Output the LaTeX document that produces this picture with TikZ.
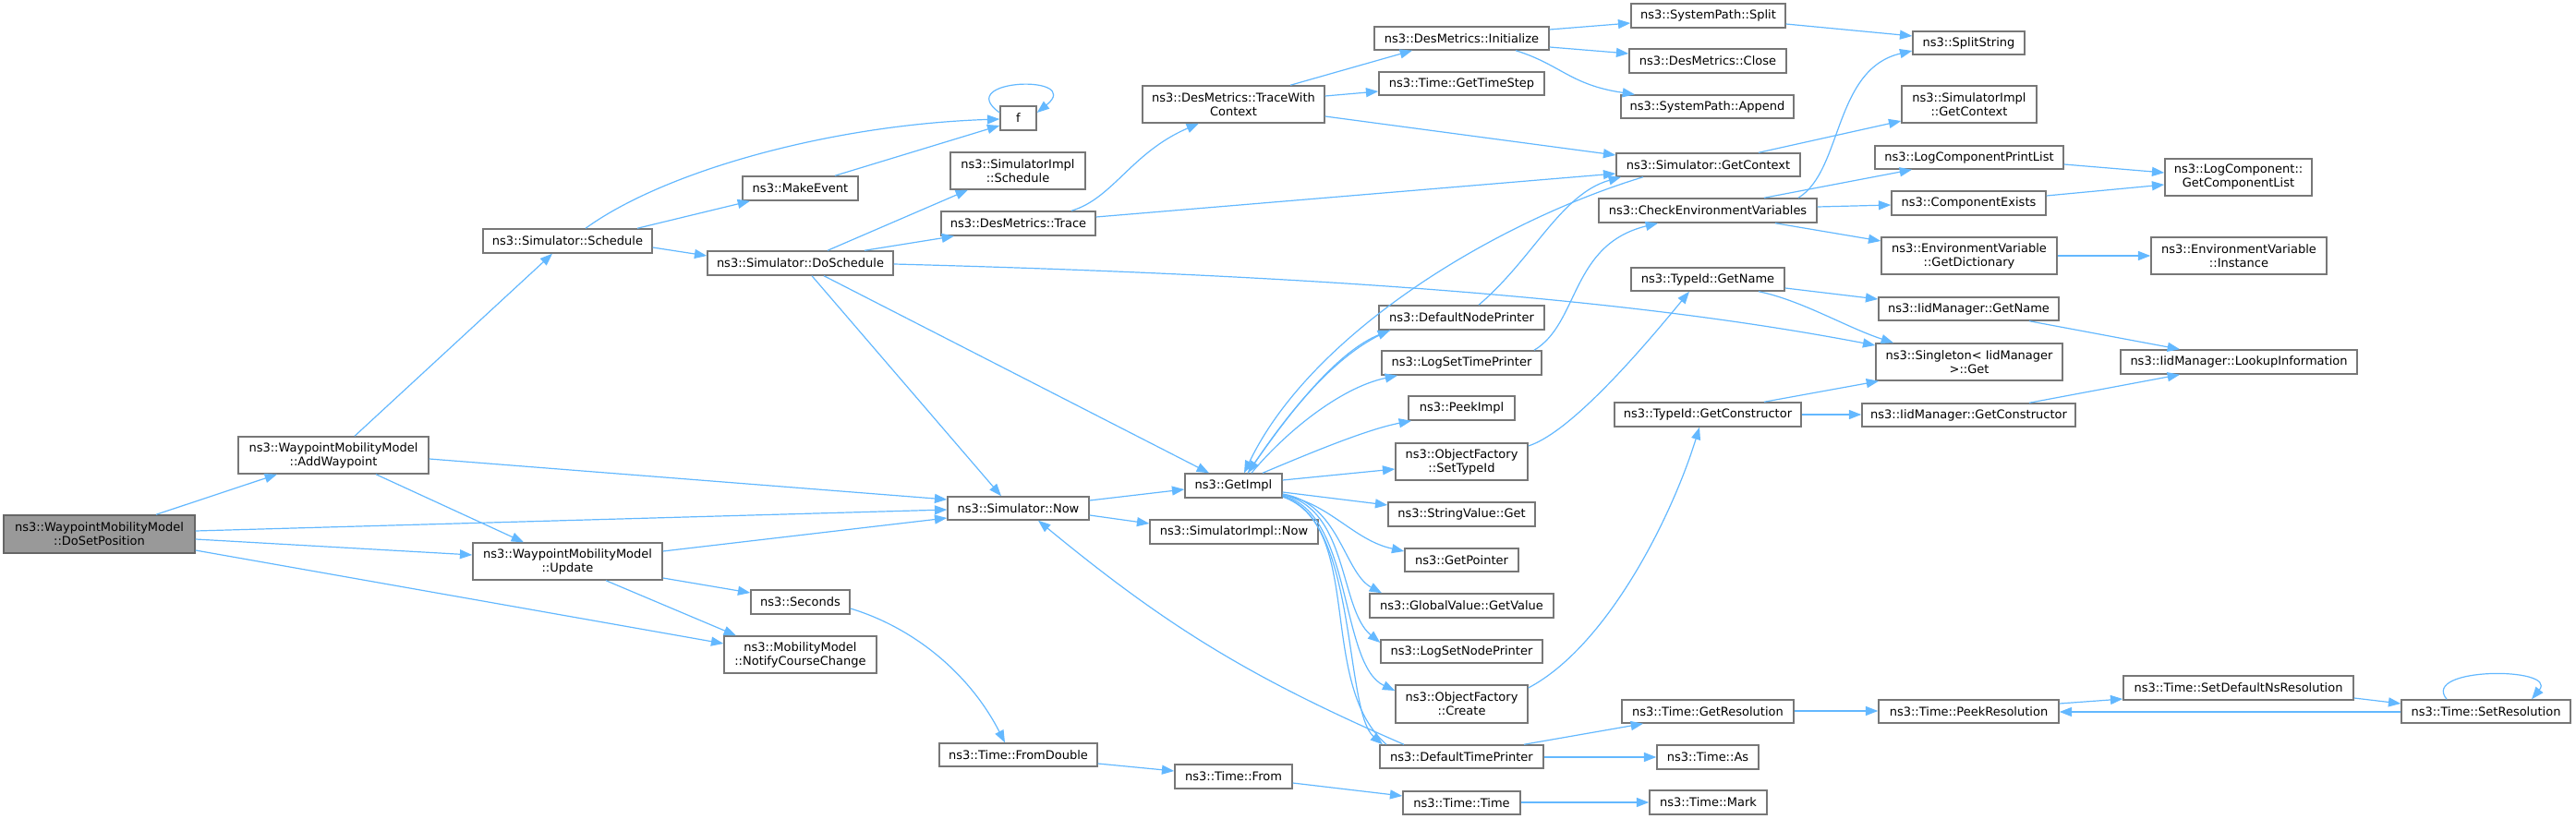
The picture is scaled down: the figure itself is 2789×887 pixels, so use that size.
\documentclass[tikz,border=0pt]{standalone}
\usepackage{fontspec}
\setmainfont{DejaVu Sans}
\usetikzlibrary{arrows.meta}
\definecolor{edgecol}{HTML}{63B8FF}
\definecolor{bordercol}{HTML}{777777}
\definecolor{rootfill}{HTML}{999999}
\tikzset{
  box/.style={draw=bordercol, line width=1.1pt, fill=white, inner sep=0pt, align=center,
    font=\fontsize{9.75}{11.25}\selectfont},
  rootbox/.style={fill=rootfill, draw={rgb,255:red,102;green,102;blue,102}},
  e/.style={draw=edgecol, line width=0.9pt, -{Triangle[length=10pt,width=7.5pt]}},
  ln/.style={draw=edgecol, line width=0.9pt},
}
\newcommand\bx[7][]{%
  \pgfmathsetmacro\bxw{(#5-#3)*0.75}%
  \pgfmathsetmacro\bxh{(#6-#4)*0.75}%
  \node[box,#1,minimum width=\bxw pt,minimum height=\bxh pt] (#2) at ({(#3+#5)/2},{(#4+#6)/2}) {#7};}
\begin{document}
\begin{tikzpicture}[x=0.75pt,y=-0.75pt]
\useasboundingbox (0,0) rectangle (2789,887);
% nodes
\bx[rootbox]{dsp}{4}{558}{211}{599}{ns3::WaypointMobilityModel\\::DoSetPosition}
\bx{addw}{258}{473}{464}{513}{ns3::WaypointMobilityModel\\::AddWaypoint}
\bx{sched}{523}{248}{706}{274}{ns3::Simulator::Schedule}
\bx{upd}{512}{588}{717}{628}{ns3::WaypointMobilityModel\\::Update}
\bx{now}{1026}{538}{1179}{563}{ns3::Simulator::Now}
\bx{secs}{813}{639}{920}{665}{ns3::Seconds}
\bx{ncc}{784}{689}{949}{729}{ns3::MobilityModel\\::NotifyCourseChange}
\bx{f}{1083}{115}{1122}{141}{f}
\bx{mkev}{804}{191}{929}{217}{ns3::MakeEvent}
\bx{dosch}{766}{272}{967}{298}{ns3::Simulator::DoSchedule}
\bx{siSched}{1029}{165}{1175}{205}{ns3::SimulatorImpl\\::Schedule}
\bx{trace}{1019}{229}{1186}{255}{ns3::DesMetrics::Trace}
\bx{twc}{1237}{93}{1434}{133}{ns3::DesMetrics::TraceWith\\Context}
\bx{getimpl}{1283}{513}{1388}{539}{ns3::GetImpl}
\bx{siNow}{1245}{563}{1427}{589}{ns3::SimulatorImpl::Now}
\bx{fromd}{1017}{805}{1188}{830}{ns3::Time::FromDouble}
\bx{tfrom}{1272}{828}{1399}{854}{ns3::Time::From}
\bx{init}{1488}{29}{1677}{54}{ns3::DesMetrics::Initialize}
\bx{gts}{1493}{78}{1672}{103}{ns3::Time::GetTimeStep}
\bx{split}{1766}{4}{1933}{30}{ns3::SystemPath::Split}
\bx{close}{1764}{53}{1934}{79}{ns3::DesMetrics::Close}
\bx{append}{1755}{103}{1942}{128}{ns3::SystemPath::Append}
\bx{getctx}{1750}{166}{1949}{191}{ns3::Simulator::GetContext}
\bx{chkenv}{1731}{215}{1967}{241}{ns3::CheckEnvironmentVariables}
\bx{dnp}{1493}{331}{1672}{357}{ns3::DefaultNodePrinter}
\bx{lstp}{1496}{380}{1669}{406}{ns3::LogSetTimePrinter}
\bx{peek}{1525}{429}{1640}{455}{ns3::PeekImpl}
\bx{settid}{1511}{480}{1654}{520}{ns3::ObjectFactory\\::SetTypeId}
\bx{strget}{1503}{544}{1662}{570}{ns3::StringValue::Get}
\bx{getptr}{1521}{594}{1644}{619}{ns3::GetPointer}
\bx{gvget}{1483}{643}{1682}{669}{ns3::GlobalValue::GetValue}
\bx{lsnp}{1495}{693}{1670}{718}{ns3::LogSetNodePrinter}
\bx{ofcreate}{1511}{742}{1654}{783}{ns3::ObjectFactory\\::Create}
\bx{dtp}{1494}{807}{1671}{832}{ns3::DefaultTimePrinter}
\bx{ttime}{1519}{857}{1646}{882}{ns3::Time::Time}
\bx{tidname}{1766}{290}{1932}{315}{ns3::TypeId::GetName}
\bx{tidctor}{1748}{436}{1950}{462}{ns3::TypeId::GetConstructor}
\bx{getres}{1756}{758}{1942}{783}{ns3::Time::GetResolution}
\bx{tas}{1794}{807}{1904}{833}{ns3::Time::As}
\bx{tmark}{1786}{856}{1913}{882}{ns3::Time::Mark}
\bx{splitstr}{2071}{34}{2192}{59}{ns3::SplitString}
\bx{siGetCtx}{2059}{93}{2205}{133}{ns3::SimulatorImpl\\::GetContext}
\bx{lcpl}{2030}{158}{2234}{183}{ns3::LogComponentPrintList}
\bx{compex}{2048}{207}{2215}{233}{ns3::ComponentExists}
\bx{getdict}{2037}{257}{2227}{297}{ns3::EnvironmentVariable\\::GetDictionary}
\bx{iidname}{2034}{322}{2229}{347}{ns3::IidManager::GetName}
\bx{singleton}{2031}{372}{2233}{412}{ns3::Singleton< IidManager\\>::Get}
\bx{iidctor}{2016}{437}{2247}{462}{ns3::IidManager::GetConstructor}
\bx{peekres}{2034}{758}{2229}{783}{ns3::Time::PeekResolution}
\bx{gcl}{2344}{172}{2503}{212}{ns3::LogComponent::\\GetComponentList}
\bx{instance}{2329}{257}{2519}{297}{ns3::EnvironmentVariable\\::Instance}
\bx{lookup}{2296}{379}{2552}{405}{ns3::IidManager::LookupInformation}
\bx{setdef}{2299}{732}{2548}{758}{ns3::Time::SetDefaultNsResolution}
\bx{setres}{2600}{758}{2783}{783}{ns3::Time::SetResolution}
% edges
\draw[e] (dsp.north -| 169,0) -- (addw.south -| 300,0);
\draw[e] (dsp.east |- 0,575) -- (now.west |- 0,552);
\draw[e] (dsp.east |- 0,584) -- (upd.west |- 0,601);
\draw[e] (dsp.east |- 0,596) -- (ncc.west |- 0,697);
\draw[e] (addw.north -| 384,0) -- (sched.south -| 598,0);
\draw[e] (addw.east |- 0,497) -- (now.west |- 0,541);
\draw[e] (addw.south -| 407,0) -- (upd.north -| 567,0);
\draw[e] (sched.north -| 634,0) .. controls (720,185) and (900,135) .. (f.west |- 0,129);
\draw[e] (sched.north -| 690,0) -- (mkev.south -| 812,0);
\draw[e] (sched.east |- 0,268) -- (dosch.west |- 0,277);
\draw[e] (mkev.north -| 904,0) -- (f.west |- 0,136);
\draw[e] (f.west |- 0,122) .. controls (1030,85) and (1175,80) .. (f.east |- 0,122);
\draw[e] (dosch.north -| 896,0) -- (siSched.south -| 1048,0);
\draw[e] (dosch.north -| 936,0) -- (trace.south -| 1033,0);
\draw[e] (dosch.east |- 0,286) .. controls (1500,300) and (1800,330) .. (singleton.west |- 0,374);
\draw[e] (dosch.south -| 879,0) -- (now.north -| 1084,0);
\draw[e] (dosch.south -| 892,0) -- (getimpl.north -| 1309,0);
\draw[e] (trace.north -| 1160,0) .. controls (1205,215) and (1225,165) .. (twc.south -| 1298,0);
\draw[e] (trace.east |- 0,235) -- (getctx.west |- 0,188);
\draw[e] (twc.north -| 1397,0) -- (init.south -| 1529,0);
\draw[e] (twc.east |- 0,104) -- (gts.west |- 0,99);
\draw[e] (twc.east |- 0,126) -- (getctx.west |- 0,168);
\draw[e] (init.east |- 0,32) -- (split.west |- 0,25);
\draw[e] (init.east |- 0,51) -- (close.west |- 0,58);
\draw[e] (init.south -| 1641,0) .. controls (1690,70) and (1700,92) .. (append.north -| 1770,0);
\draw[e] (split.east |- 0,26) -- (splitstr.west |- 0,39);
\draw[e] (getctx.north -| 1904,0) -- (siGetCtx.west |- 0,131);
\draw[e] (chkenv.north -| 1947,0) .. controls (1995,185) and (1985,75) .. (splitstr.west |- 0,55);
\draw[e] (chkenv.north -| 1910,0) -- (lcpl.south -| 2070,0);
\draw[e] (chkenv.east |- 0,224) -- (compex.west |- 0,222);
\draw[e] (chkenv.south -| 1922,0) -- (getdict.west |- 0,261);
\draw[e] (lcpl.east |- 0,178) -- (gcl.west |- 0,187);
\draw[e] (compex.east |- 0,212) -- (gcl.west |- 0,200);
\draw[e] (getdict.east |- 0,277) -- (instance.west |- 0,277);
\draw[e] (upd.east |- 0,597) -- (now.west |- 0,561);
\draw[e] (upd.east |- 0,626) -- (secs.west |- 0,642);
\draw[e] (upd.south -| 656,0) -- (ncc.north -| 797,0);
\draw[e] (secs.east |- 0,659) .. controls (990,680) and (1050,730) .. (fromd.north -| 1088,0);
\draw[e] (fromd.east |- 0,827) -- (tfrom.west |- 0,835);
\draw[e] (tfrom.east |- 0,848) -- (ttime.west |- 0,862);
\draw[e] (ttime.east |- 0,869) -- (tmark.west |- 0,869);
\draw[e] (now.east |- 0,542) -- (getimpl.west |- 0,530);
\draw[e] (now.east |- 0,558) -- (siNow.west |- 0,567);
\draw[e] (getctx.south -| 1779,0) .. controls (1620,240) and (1420,360) .. (getimpl.north -| 1347,0);
\draw[e] (getimpl.north -| 1351,0) .. controls (1400,440) and (1450,380) .. (dnp.south -| 1505,0);
\draw[e] (dnp.south -| 1505,0) .. controls (1450,380) and (1400,440) .. (getimpl.north -| 1351,0);
\draw[e] (dnp.north -| 1601,0) .. controls (1660,280) and (1690,210) .. (getctx.south -| 1755,0);
\draw[e] (getimpl.north -| 1355,0) .. controls (1390,470) and (1450,420) .. (lstp.south -| 1513,0);
\draw[e] (getimpl.north -| 1367,0) .. controls (1420,490) and (1480,465) .. (peek.south -| 1528,0);
\draw[e] (getimpl.east |- 0,520) -- (settid.west |- 0,508);
\draw[e] (getimpl.east |- 0,533) -- (strget.west |- 0,547);
\draw[e] (getimpl.east |- 0,536) .. controls (1440,545) and (1465,585) .. (getptr.west |- 0,597);
\draw[e] (getimpl.east |- 0,535) .. controls (1450,545) and (1455,620) .. (gvget.north -| 1496,0);
\draw[e] (getimpl.east |- 0,536) .. controls (1460,550) and (1450,660) .. (lsnp.west |- 0,696);
\draw[e] (getimpl.east |- 0,537) .. controls (1465,555) and (1450,720) .. (ofcreate.west |- 0,748);
\draw[e] (getimpl.east |- 0,538) .. controls (1470,560) and (1455,770) .. (dtp.north -| 1497,0);
\draw[ln] (getimpl.east |- 0,538) .. controls (1478,570) and (1425,740) .. (dtp.north -| 1501,0);
\draw[e] (dtp.north -| 1520,0) to[bend left=8] (now.south -| 1124,0);
\draw[e] (settid.east |- 0,483) .. controls (1695,470) and (1760,400) .. (tidname.south -| 1829,0);
\draw[e] (lstp.north -| 1661,0) .. controls (1710,350) and (1700,265) .. (chkenv.south -| 1795,0);
\draw[e] (ofcreate.east |- 0,745) .. controls (1740,700) and (1810,560) .. (tidctor.south -| 1840,0);
\draw[e] (tidname.east |- 0,312) -- (iidname.west |- 0,324);
\draw[e] (tidname.south -| 1904,0) .. controls (1950,325) and (2000,355) .. (singleton.north -| 2050,0);
\draw[e] (tidctor.north -| 1910,0) -- (singleton.south -| 2034,0);
\draw[e] (tidctor.east |- 0,449) -- (iidctor.west |- 0,449);
\draw[e] (iidname.south -| 2197,0) -- (lookup.north -| 2360,0);
\draw[e] (iidctor.north -| 2197,0) -- (lookup.south -| 2360,0);
\draw[e] (dtp.north -| 1650,0) -- (getres.south -| 1779,0);
\draw[e] (dtp.east |- 0,820) -- (tas.west |- 0,820);
\draw[e] (getres.east |- 0,770) -- (peekres.west |- 0,770);
\draw[e] (peekres.east |- 0,762) -- (setdef.west |- 0,757);
\draw[e] (setdef.east |- 0,756) -- (setres.west |- 0,762);
\draw[e] (setres.west |- 0,771) -- (peekres.east |- 0,771);
\draw[e] (setres.north -| 2649,0) .. controls (2620,722) and (2770,722) .. (setres.north -| 2741,0);
\end{tikzpicture}
\end{document}
